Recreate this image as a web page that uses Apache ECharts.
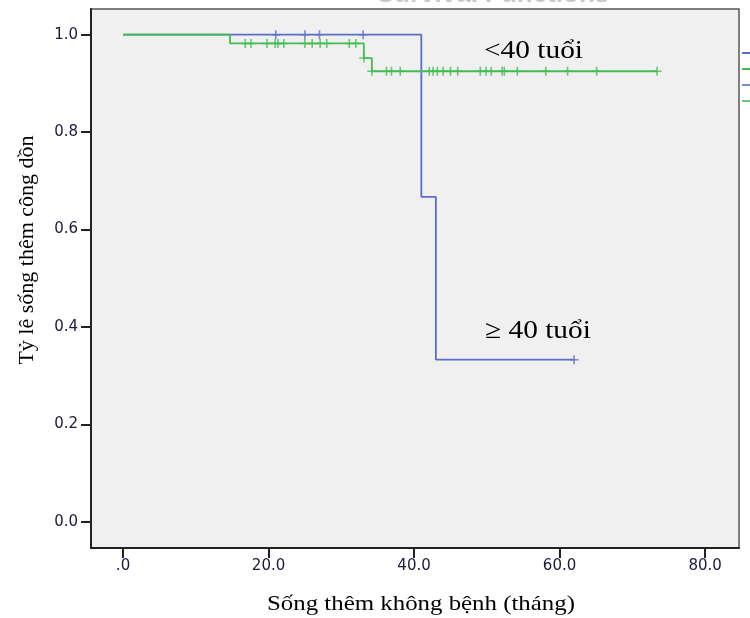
<!DOCTYPE html>
<html>
<head>
<meta charset="utf-8">
<script src="https://cdn.jsdelivr.net/npm/echarts@6/dist/echarts.min.js"></script>
<style>
  html, body { margin: 0; padding: 0; background: #ffffff; }
  #chart { width: 750px; height: 618px; }
</style>
</head>
<body>
<div id="chart"></div>
<script>
// ---- Data ----
const xTicks = [0, 20, 40, 60, 80];
const yTicks = [0, 0.2, 0.4, 0.6, 0.8, 1.0];

// Kaplan-Meier steps, group ≥ 40 tuổi (blue)
const oldTimes = [0, 41, 43, 62];
const oldSurv  = [1, 0.667, 0.333, 0.333];
// censored, group ≥ 40 tuổi
const oldCensTimes = [21, 25, 27, 33, 62];
const oldCensSurv  = [1, 1, 1, 1, 0.333];

// Kaplan-Meier steps, group <40 tuổi (green)
const youngTimes = [0, 14.7, 33.1, 34.2, 73.4];
const youngSurv  = [1, 0.982, 0.952, 0.925, 0.925];
// censored, group <40 tuổi
const youngCensTimes = [16.8, 17.6, 19.8, 20.9, 21.3, 22.1, 25.0, 26.0, 27.1, 28.0, 31.1, 32.0,
  33.1,
  34.2, 36.2, 36.9, 38.1, 42.1, 42.6, 43.2, 44.0, 45.0, 46.0, 49.1, 49.9, 50.6, 52.1, 52.4,
  54.2, 58.1, 61.1, 65.1, 73.4];
const youngCensSurv = [0.982, 0.982, 0.982, 0.982, 0.982, 0.982, 0.982, 0.982, 0.982, 0.982, 0.982, 0.982,
  0.952,
  0.925, 0.925, 0.925, 0.925, 0.925, 0.925, 0.925, 0.925, 0.925, 0.925, 0.925, 0.925, 0.925, 0.925, 0.925,
  0.925, 0.925, 0.925, 0.925, 0.925];

const nameOld = '≥ 40 tuổi';
const nameYoung = '<40 tuổi';
const nameOldC = '≥ 40 tuổi-censored';
const nameYoungC = '<40 tuổi-censored';

// ---- Styling ----
const BLUE = '#5a6fc6';
const GREEN = '#45bb55';
const LABEL = '#1a1a3a';
const PLUS = 'path://M0,4L8,4M4,0L4,8';

const zip = (a, b) => a.map((v, i) => [v, b[i]]);

const chart = echarts.init(document.getElementById('chart'), null, { renderer: 'canvas' });

const legendItem = (name, color) => ({
  name,
  icon: 'rect',
  itemStyle: { color, borderWidth: 0 },
  lineStyle: { color, width: 2, opacity: 1 }
});

const option = {
  backgroundColor: '#ffffff',
  animation: false,
  title: {
    text: 'Survival Functions',
    left: 488,
    top: -23,
    textAlign: 'center',
    textStyle: { color: '#c8c8c8', fontSize: 26, fontWeight: 'bold', fontFamily: 'Liberation Sans' }
  },
  grid: {
    left: 91, right: 11, top: 9, bottom: 70,
    show: true,
    backgroundColor: '#f0f0f0',
    borderColor: '#555555',
    borderWidth: 1.5
  },
  legend: {
    orient: 'vertical',
    left: 737,
    top: 41,
    itemWidth: 9,
    itemHeight: 2,
    itemGap: 2,
    textStyle: { fontSize: 11, lineHeight: 14, color: '#333' },
    data: [
      legendItem(nameOld, BLUE),
      legendItem(nameYoung, GREEN),
      legendItem(nameOldC, BLUE),
      legendItem(nameYoungC, GREEN)
    ]
  },
  xAxis: {
    type: 'value',
    min: -4.4,
    max: 84.66,
    splitLine: { show: false },
    axisLine: { show: true, onZero: false, lineStyle: { color: '#222', width: 2 } },
    axisTick: { show: true, inside: false, length: 10, customValues: xTicks, lineStyle: { color: '#222', width: 2 } },
    axisLabel: {
      customValues: xTicks,
      margin: 11,
      color: LABEL,
      fontSize: 15,
      fontFamily: 'DejaVu Sans',
      formatter: v => (v === 0 ? '.0' : v.toFixed(1))
    }
  },
  yAxis: {
    type: 'value',
    min: -0.0534,
    max: 1.0527,
    splitLine: { show: false },
    axisLine: { show: true, onZero: false, lineStyle: { color: '#222', width: 2 } },
    axisTick: { show: true, inside: false, length: 10, customValues: yTicks, lineStyle: { color: '#222', width: 2 } },
    axisLabel: {
      customValues: yTicks,
      margin: 13,
      color: LABEL,
      fontSize: 15,
      fontFamily: 'DejaVu Sans',
      formatter: v => v.toFixed(1)
    }
  },
  series: [
    {
      name: nameOld,
      type: 'line',
      step: 'end',
      symbol: 'none',
      data: zip(oldTimes, oldSurv),
      lineStyle: { color: BLUE, width: 1.8 },
      itemStyle: { color: BLUE },
      z: 2
    },
    {
      name: nameYoung,
      type: 'line',
      step: 'end',
      symbol: 'none',
      data: zip(youngTimes, youngSurv),
      lineStyle: { color: GREEN, width: 1.8 },
      itemStyle: { color: GREEN },
      z: 3
    },
    {
      name: nameOldC,
      type: 'scatter',
      symbol: PLUS,
      symbolSize: 9,
      data: zip(oldCensTimes, oldCensSurv),
      itemStyle: { color: 'rgba(0,0,0,0)', borderColor: BLUE, borderWidth: 1.6 },
      z: 4
    },
    {
      name: nameYoungC,
      type: 'scatter',
      symbol: PLUS,
      symbolSize: 9,
      data: zip(youngCensTimes, youngCensSurv),
      itemStyle: { color: 'rgba(0,0,0,0)', borderColor: GREEN, borderWidth: 1.6 },
      z: 4
    }
  ],
  graphic: [
    {
      type: 'text',
      x: 484, y: 51,
      scaleX: 1.13,
      style: { text: nameYoung, font: '26px "Liberation Serif"', fill: '#000', align: 'left', verticalAlign: 'middle' }
    },
    {
      type: 'text',
      x: 485, y: 331,
      scaleX: 1.13,
      style: { text: nameOld, font: '26px "Liberation Serif"', fill: '#000', align: 'left', verticalAlign: 'middle' }
    },
    {
      type: 'text',
      x: 421, y: 604,
      scaleX: 1.13,
      style: { text: 'Sống thêm không bệnh (tháng)', font: '22px "Liberation Serif"', fill: '#000', align: 'center', verticalAlign: 'middle' }
    },
    {
      type: 'text',
      x: 27, y: 250,
      rotation: Math.PI / 2,
      style: { text: 'Tỷ lê sống thêm công dồn', font: '22px "Liberation Serif"', fill: '#000', align: 'center', verticalAlign: 'middle' }
    }
  ]
};

chart.setOption(option);
</script>
</body>
</html>
